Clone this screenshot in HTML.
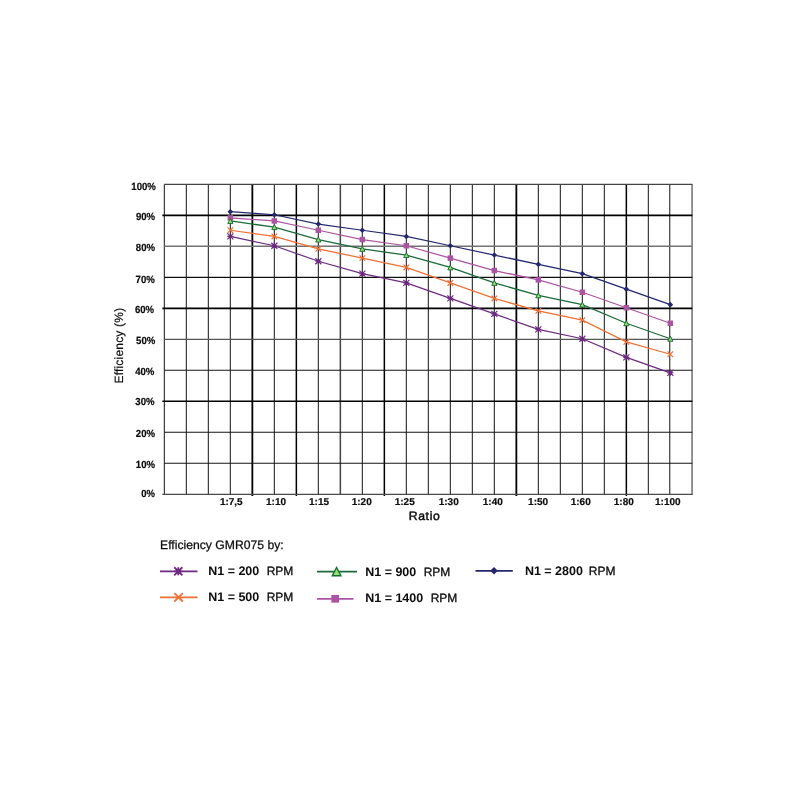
<!DOCTYPE html>
<html><head><meta charset="utf-8"><title>Efficiency GMR075</title>
<style>html,body{margin:0;padding:0;background:#fff;}body{width:800px;height:800px;overflow:hidden;}svg{display:block;filter:blur(0.35px);}text{font-family:"Liberation Sans",sans-serif;fill:#0c0c0c;text-rendering:geometricPrecision;}.b{font-weight:bold;}.t{stroke:#0c0c0c;stroke-width:0.2px;}</style></head><body>
<svg width="800" height="800" viewBox="0 0 800 800">
<rect width="800" height="800" fill="#ffffff"/>
<g><line x1="164.35" y1="184.30" x2="164.35" y2="494.90" stroke="#2c2c2c" stroke-width="1.12"/><line x1="186.35" y1="184.30" x2="186.35" y2="494.90" stroke="#2c2c2c" stroke-width="1.12"/><line x1="208.35" y1="184.30" x2="208.35" y2="494.90" stroke="#2c2c2c" stroke-width="1.12"/><line x1="230.35" y1="184.30" x2="230.35" y2="494.90" stroke="#2c2c2c" stroke-width="1.12"/><line x1="252.35" y1="184.30" x2="252.35" y2="495.90" stroke="#000" stroke-width="1.8"/><line x1="274.35" y1="184.30" x2="274.35" y2="494.90" stroke="#2c2c2c" stroke-width="1.12"/><line x1="296.35" y1="184.30" x2="296.35" y2="495.90" stroke="#000" stroke-width="1.5"/><line x1="318.35" y1="184.30" x2="318.35" y2="494.90" stroke="#2c2c2c" stroke-width="1.12"/><line x1="340.35" y1="184.30" x2="340.35" y2="494.90" stroke="#444" stroke-width="1.5"/><line x1="362.35" y1="184.30" x2="362.35" y2="494.90" stroke="#2c2c2c" stroke-width="1.12"/><line x1="384.35" y1="184.30" x2="384.35" y2="495.90" stroke="#000" stroke-width="1.5"/><line x1="406.35" y1="184.30" x2="406.35" y2="494.90" stroke="#2c2c2c" stroke-width="1.12"/><line x1="428.35" y1="184.30" x2="428.35" y2="494.90" stroke="#2c2c2c" stroke-width="1.12"/><line x1="450.35" y1="184.30" x2="450.35" y2="494.90" stroke="#2c2c2c" stroke-width="1.12"/><line x1="472.35" y1="184.30" x2="472.35" y2="494.90" stroke="#2c2c2c" stroke-width="1.12"/><line x1="494.35" y1="184.30" x2="494.35" y2="494.90" stroke="#2c2c2c" stroke-width="1.12"/><line x1="516.35" y1="184.30" x2="516.35" y2="495.90" stroke="#000" stroke-width="1.8"/><line x1="538.35" y1="184.30" x2="538.35" y2="494.90" stroke="#2c2c2c" stroke-width="1.12"/><line x1="560.35" y1="184.30" x2="560.35" y2="494.90" stroke="#2c2c2c" stroke-width="1.12"/><line x1="582.35" y1="184.30" x2="582.35" y2="494.90" stroke="#2c2c2c" stroke-width="1.12"/><line x1="604.35" y1="184.30" x2="604.35" y2="494.90" stroke="#2c2c2c" stroke-width="1.12"/><line x1="626.35" y1="184.30" x2="626.35" y2="495.90" stroke="#000" stroke-width="1.5"/><line x1="648.35" y1="184.30" x2="648.35" y2="494.90" stroke="#2c2c2c" stroke-width="1.12"/><line x1="669.75" y1="184.30" x2="669.75" y2="494.90" stroke="#2c2c2c" stroke-width="1.12"/><line x1="692.05" y1="184.30" x2="692.05" y2="494.90" stroke="#444" stroke-width="1.15"/><line x1="162.35" y1="494.30" x2="692.35" y2="494.30" stroke="#4a4a4a" stroke-width="1.3"/><line x1="164.35" y1="463.30" x2="692.35" y2="463.30" stroke="#161616" stroke-width="1.1"/><line x1="164.35" y1="432.30" x2="692.35" y2="432.30" stroke="#161616" stroke-width="1.1"/><line x1="162.35" y1="401.30" x2="692.35" y2="401.30" stroke="#000" stroke-width="1.55"/><line x1="164.35" y1="370.30" x2="692.35" y2="370.30" stroke="#161616" stroke-width="1.1"/><line x1="164.35" y1="339.30" x2="692.35" y2="339.30" stroke="#555" stroke-width="1.2"/><line x1="162.35" y1="308.30" x2="692.35" y2="308.30" stroke="#000" stroke-width="1.8"/><line x1="164.35" y1="277.30" x2="692.35" y2="277.30" stroke="#111" stroke-width="1.2"/><line x1="164.35" y1="246.30" x2="692.35" y2="246.30" stroke="#727272" stroke-width="1.4"/><line x1="162.35" y1="215.30" x2="692.35" y2="215.30" stroke="#000" stroke-width="1.8"/><line x1="164.35" y1="184.30" x2="692.35" y2="184.30" stroke="#444" stroke-width="1.15"/></g>
<polyline points="230.35,211.65 274.35,214.75 318.35,224.05 362.35,230.25 406.35,236.45 450.35,245.75 494.35,255.05 538.35,264.35 582.35,273.65 626.35,289.15 670.35,304.65" fill="none" stroke="#24266e" stroke-width="1.25"/>
<path d="M230.35 208.85L233.15 211.65L230.35 214.45L227.55 211.65Z" fill="#24266e"/><path d="M274.35 211.95L277.15 214.75L274.35 217.55L271.55 214.75Z" fill="#24266e"/><path d="M318.35 221.25L321.15 224.05L318.35 226.85L315.55 224.05Z" fill="#24266e"/><path d="M362.35 227.45L365.15 230.25L362.35 233.05L359.55 230.25Z" fill="#24266e"/><path d="M406.35 233.65L409.15 236.45L406.35 239.25L403.55 236.45Z" fill="#24266e"/><path d="M450.35 242.95L453.15 245.75L450.35 248.55L447.55 245.75Z" fill="#24266e"/><path d="M494.35 252.25L497.15 255.05L494.35 257.85L491.55 255.05Z" fill="#24266e"/><path d="M538.35 261.55L541.15 264.35L538.35 267.15L535.55 264.35Z" fill="#24266e"/><path d="M582.35 270.85L585.15 273.65L582.35 276.45L579.55 273.65Z" fill="#24266e"/><path d="M626.35 286.35L629.15 289.15L626.35 291.95L623.55 289.15Z" fill="#24266e"/><path d="M670.35 301.85L673.15 304.65L670.35 307.45L667.55 304.65Z" fill="#24266e"/>
<polyline points="230.35,217.85 274.35,220.95 318.35,230.25 362.35,239.55 406.35,245.75 450.35,258.15 494.35,270.55 538.35,279.85 582.35,292.25 626.35,307.75 670.35,323.25" fill="none" stroke="#ac54a2" stroke-width="1.25"/>
<rect x="227.60" y="215.10" width="5.50" height="5.50" fill="#ac54a2"/><rect x="271.60" y="218.20" width="5.50" height="5.50" fill="#ac54a2"/><rect x="315.60" y="227.50" width="5.50" height="5.50" fill="#ac54a2"/><rect x="359.60" y="236.80" width="5.50" height="5.50" fill="#ac54a2"/><rect x="403.60" y="243.00" width="5.50" height="5.50" fill="#ac54a2"/><rect x="447.60" y="255.40" width="5.50" height="5.50" fill="#ac54a2"/><rect x="491.60" y="267.80" width="5.50" height="5.50" fill="#ac54a2"/><rect x="535.60" y="277.10" width="5.50" height="5.50" fill="#ac54a2"/><rect x="579.60" y="289.50" width="5.50" height="5.50" fill="#ac54a2"/><rect x="623.60" y="305.00" width="5.50" height="5.50" fill="#ac54a2"/><rect x="667.60" y="320.50" width="5.50" height="5.50" fill="#ac54a2"/>
<polyline points="230.35,220.95 274.35,227.15 318.35,239.55 362.35,248.85 406.35,255.05 450.35,267.45 494.35,282.95 538.35,295.35 582.35,304.65 626.35,323.25 670.35,338.75" fill="none" stroke="#1b6a3a" stroke-width="1.25"/>
<path d="M230.35 218.48L232.95 223.42L227.75 223.42Z" fill="#8ee566" stroke="#1b6a3a" stroke-width="0.95"/><path d="M274.35 224.68L276.95 229.62L271.75 229.62Z" fill="#8ee566" stroke="#1b6a3a" stroke-width="0.95"/><path d="M318.35 237.08L320.95 242.02L315.75 242.02Z" fill="#8ee566" stroke="#1b6a3a" stroke-width="0.95"/><path d="M362.35 246.38L364.95 251.32L359.75 251.32Z" fill="#8ee566" stroke="#1b6a3a" stroke-width="0.95"/><path d="M406.35 252.58L408.95 257.52L403.75 257.52Z" fill="#8ee566" stroke="#1b6a3a" stroke-width="0.95"/><path d="M450.35 264.98L452.95 269.92L447.75 269.92Z" fill="#8ee566" stroke="#1b6a3a" stroke-width="0.95"/><path d="M494.35 280.48L496.95 285.42L491.75 285.42Z" fill="#8ee566" stroke="#1b6a3a" stroke-width="0.95"/><path d="M538.35 292.88L540.95 297.82L535.75 297.82Z" fill="#8ee566" stroke="#1b6a3a" stroke-width="0.95"/><path d="M582.35 302.18L584.95 307.12L579.75 307.12Z" fill="#8ee566" stroke="#1b6a3a" stroke-width="0.95"/><path d="M626.35 320.78L628.95 325.72L623.75 325.72Z" fill="#8ee566" stroke="#1b6a3a" stroke-width="0.95"/><path d="M670.35 336.28L672.95 341.22L667.75 341.22Z" fill="#8ee566" stroke="#1b6a3a" stroke-width="0.95"/>
<polyline points="230.35,230.25 274.35,236.45 318.35,248.85 362.35,258.15 406.35,267.45 450.35,282.95 494.35,298.45 538.35,310.85 582.35,320.15 626.35,341.85 670.35,354.25" fill="none" stroke="#ee7034" stroke-width="1.25"/>
<path d="M227.55 227.45L233.15 233.05M227.55 233.05L233.15 227.45" stroke="#ee7034" stroke-width="1.2" fill="none"/><path d="M271.55 233.65L277.15 239.25M271.55 239.25L277.15 233.65" stroke="#ee7034" stroke-width="1.2" fill="none"/><path d="M315.55 246.05L321.15 251.65M315.55 251.65L321.15 246.05" stroke="#ee7034" stroke-width="1.2" fill="none"/><path d="M359.55 255.35L365.15 260.95M359.55 260.95L365.15 255.35" stroke="#ee7034" stroke-width="1.2" fill="none"/><path d="M403.55 264.65L409.15 270.25M403.55 270.25L409.15 264.65" stroke="#ee7034" stroke-width="1.2" fill="none"/><path d="M447.55 280.15L453.15 285.75M447.55 285.75L453.15 280.15" stroke="#ee7034" stroke-width="1.2" fill="none"/><path d="M491.55 295.65L497.15 301.25M491.55 301.25L497.15 295.65" stroke="#ee7034" stroke-width="1.2" fill="none"/><path d="M535.55 308.05L541.15 313.65M535.55 313.65L541.15 308.05" stroke="#ee7034" stroke-width="1.2" fill="none"/><path d="M579.55 317.35L585.15 322.95M579.55 322.95L585.15 317.35" stroke="#ee7034" stroke-width="1.2" fill="none"/><path d="M623.55 339.05L629.15 344.65M623.55 344.65L629.15 339.05" stroke="#ee7034" stroke-width="1.2" fill="none"/><path d="M667.55 351.45L673.15 357.05M667.55 357.05L673.15 351.45" stroke="#ee7034" stroke-width="1.2" fill="none"/>
<polyline points="230.35,236.45 274.35,245.75 318.35,261.25 362.35,273.65 406.35,282.95 450.35,298.45 494.35,313.95 538.35,329.45 582.35,338.75 626.35,357.35 670.35,372.85" fill="none" stroke="#6d2a80" stroke-width="1.25"/>
<path d="M227.35 233.45L233.35 239.45M227.35 239.45L233.35 233.45M230.35 233.45L230.35 239.45M227.35 236.45L233.35 236.45" stroke="#6d2a80" stroke-width="1.2" fill="none"/><path d="M271.35 242.75L277.35 248.75M271.35 248.75L277.35 242.75M274.35 242.75L274.35 248.75M271.35 245.75L277.35 245.75" stroke="#6d2a80" stroke-width="1.2" fill="none"/><path d="M315.35 258.25L321.35 264.25M315.35 264.25L321.35 258.25M318.35 258.25L318.35 264.25M315.35 261.25L321.35 261.25" stroke="#6d2a80" stroke-width="1.2" fill="none"/><path d="M359.35 270.65L365.35 276.65M359.35 276.65L365.35 270.65M362.35 270.65L362.35 276.65M359.35 273.65L365.35 273.65" stroke="#6d2a80" stroke-width="1.2" fill="none"/><path d="M403.35 279.95L409.35 285.95M403.35 285.95L409.35 279.95M406.35 279.95L406.35 285.95M403.35 282.95L409.35 282.95" stroke="#6d2a80" stroke-width="1.2" fill="none"/><path d="M447.35 295.45L453.35 301.45M447.35 301.45L453.35 295.45M450.35 295.45L450.35 301.45M447.35 298.45L453.35 298.45" stroke="#6d2a80" stroke-width="1.2" fill="none"/><path d="M491.35 310.95L497.35 316.95M491.35 316.95L497.35 310.95M494.35 310.95L494.35 316.95M491.35 313.95L497.35 313.95" stroke="#6d2a80" stroke-width="1.2" fill="none"/><path d="M535.35 326.45L541.35 332.45M535.35 332.45L541.35 326.45M538.35 326.45L538.35 332.45M535.35 329.45L541.35 329.45" stroke="#6d2a80" stroke-width="1.2" fill="none"/><path d="M579.35 335.75L585.35 341.75M579.35 341.75L585.35 335.75M582.35 335.75L582.35 341.75M579.35 338.75L585.35 338.75" stroke="#6d2a80" stroke-width="1.2" fill="none"/><path d="M623.35 354.35L629.35 360.35M623.35 360.35L629.35 354.35M626.35 354.35L626.35 360.35M623.35 357.35L629.35 357.35" stroke="#6d2a80" stroke-width="1.2" fill="none"/><path d="M667.35 369.85L673.35 375.85M667.35 375.85L673.35 369.85M670.35 369.85L670.35 375.85M667.35 372.85L673.35 372.85" stroke="#6d2a80" stroke-width="1.2" fill="none"/>
<text class="b t" x="155.9" y="190.3" font-size="10.4" text-anchor="end" textLength="24.6" lengthAdjust="spacingAndGlyphs">100%</text>
<text class="b t" x="155.1" y="220.3" font-size="10.4" text-anchor="end" textLength="19.2" lengthAdjust="spacingAndGlyphs">90%</text>
<text class="b t" x="155.0" y="251.0" font-size="10.4" text-anchor="end" textLength="19.2" lengthAdjust="spacingAndGlyphs">80%</text>
<text class="b t" x="154.8" y="282.7" font-size="10.4" text-anchor="end" textLength="19.2" lengthAdjust="spacingAndGlyphs">70%</text>
<text class="b t" x="154.1" y="313.0" font-size="10.4" text-anchor="end" textLength="19.2" lengthAdjust="spacingAndGlyphs">60%</text>
<text class="b t" x="155.3" y="344.3" font-size="10.4" text-anchor="end" textLength="19.2" lengthAdjust="spacingAndGlyphs">50%</text>
<text class="b t" x="154.4" y="375.4" font-size="10.4" text-anchor="end" textLength="19.2" lengthAdjust="spacingAndGlyphs">40%</text>
<text class="b t" x="154.5" y="404.9" font-size="10.4" text-anchor="end" textLength="19.2" lengthAdjust="spacingAndGlyphs">30%</text>
<text class="b t" x="155.0" y="437.2" font-size="10.4" text-anchor="end" textLength="19.2" lengthAdjust="spacingAndGlyphs">20%</text>
<text class="b t" x="155.0" y="468.0" font-size="10.4" text-anchor="end" textLength="19.2" lengthAdjust="spacingAndGlyphs">10%</text>
<text class="b t" x="155.0" y="497.4" font-size="10.4" text-anchor="end" textLength="13.7" lengthAdjust="spacingAndGlyphs">0%</text>
<text class="b t" x="231.3" y="505.4" font-size="10" text-anchor="middle">1:7,5</text>
<text class="b t" x="276" y="505.4" font-size="10" text-anchor="middle">1:10</text>
<text class="b t" x="319" y="505.4" font-size="10" text-anchor="middle">1:15</text>
<text class="b t" x="361.7" y="505.4" font-size="10" text-anchor="middle">1:20</text>
<text class="b t" x="404.7" y="504.9" font-size="10" text-anchor="middle">1:25</text>
<text class="b t" x="448.7" y="505.4" font-size="10" text-anchor="middle">1:30</text>
<text class="b t" x="492.8" y="505.4" font-size="10" text-anchor="middle">1:40</text>
<text class="b t" x="538.1" y="505.4" font-size="10" text-anchor="middle">1:50</text>
<text class="b t" x="580.7" y="505.4" font-size="10" text-anchor="middle">1:60</text>
<text class="b t" x="623.8" y="505.4" font-size="10" text-anchor="middle">1:80</text>
<text class="b t" x="667.8" y="505.4" font-size="10" text-anchor="middle">1:100</text>
<text x="424.6" y="520.4" font-size="12.2" text-anchor="middle" letter-spacing="0.65" stroke="#0c0c0c" stroke-width="0.45" style="text-rendering:geometricPrecision">Ratio</text>
<text transform="translate(123.2,345.6) rotate(-90)" font-size="12" text-anchor="middle" letter-spacing="0.2" stroke="#0c0c0c" stroke-width="0.2">Efficiency (%)</text>
<text x="160" y="549" font-size="12.2" stroke="#0c0c0c" stroke-width="0.25">Efficiency GMR075 by:</text>
<line x1="160" y1="571.3" x2="197.5" y2="571.3" stroke="#6d2a80" stroke-width="1.8"/><path d="M174.25 567.25L182.35 575.35M174.25 575.35L182.35 567.25M178.30 567.25L178.30 575.35M174.25 571.30L182.35 571.30" stroke="#6d2a80" stroke-width="1.8" fill="none"/><text x="208.2" y="575.3" font-size="12.5"><tspan class="b">N1 = 200</tspan><tspan dx="7.4" font-size="12" letter-spacing="0" stroke="#0c0c0c" stroke-width="0.3">RPM</tspan></text>
<line x1="160" y1="597.3" x2="197.5" y2="597.3" stroke="#ee7034" stroke-width="1.8"/><path d="M174.40 593.10L182.80 601.50M174.40 601.50L182.80 593.10" stroke="#ee7034" stroke-width="1.8" fill="none"/><text x="208.2" y="601.1999999999999" font-size="12.5"><tspan class="b">N1 = 500</tspan><tspan dx="7.4" font-size="12" letter-spacing="0" stroke="#0c0c0c" stroke-width="0.3">RPM</tspan></text>
<line x1="317" y1="571.6" x2="357" y2="571.6" stroke="#1b6a3a" stroke-width="1.8"/><path d="M336.60 567.52L340.89 575.68L332.31 575.68Z" fill="#8ee566" stroke="#1b6a3a" stroke-width="1.4"/><text x="365.2" y="575.6999999999999" font-size="12.5"><tspan class="b">N1 = 900</tspan><tspan dx="7.4" font-size="12" letter-spacing="0" stroke="#0c0c0c" stroke-width="0.3">RPM</tspan></text>
<line x1="317" y1="598.8" x2="353.5" y2="598.8" stroke="#ac54a2" stroke-width="1.8"/><rect x="331.35" y="594.95" width="7.70" height="7.70" fill="#ac54a2"/><text x="365.2" y="602.0999999999999" font-size="12.5"><tspan class="b">N1 = 1400</tspan><tspan dx="7.4" font-size="12" letter-spacing="0" stroke="#0c0c0c" stroke-width="0.3">RPM</tspan></text>
<line x1="475.5" y1="570.8" x2="512.8" y2="570.8" stroke="#24266e" stroke-width="1.8"/><path d="M494.00 567.02L497.78 570.80L494.00 574.58L490.22 570.80Z" fill="#24266e"/><text x="524.9" y="575.0999999999999" font-size="12.5"><tspan class="b">N1 = 2800</tspan><tspan dx="5.9" font-size="12" letter-spacing="0" stroke="#0c0c0c" stroke-width="0.3">RPM</tspan></text>
</svg></body></html>
